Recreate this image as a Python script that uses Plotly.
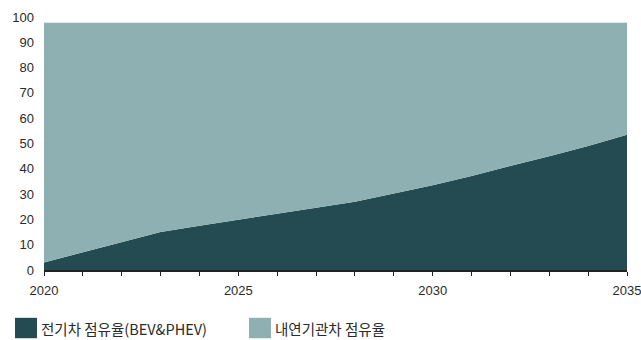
import plotly.graph_objects as go

years = list(range(2020, 2036))
ev_share = [3, 7, 11, 15, 17.5, 19.8, 22.2, 24.6, 27, 30.2, 33.5, 37.2, 41, 45, 49, 53.5]
ice_share = [94.7, 90.7, 86.7, 82.7, 80.2, 77.9, 75.5, 73.1, 70.7, 67.5, 64.2, 60.5, 56.7, 52.7, 48.7, 44.2]
names = ["전기차 점유율(BEV&PHEV)", "내연기관차 점유율"]
colors = ["#244b52", "#8fb0b3"]
y_ticks = list(range(0, 101, 10))
x_ticks = [2020, 2025, 2030, 2035]

fig = go.Figure()
for vals, name, col in zip([ev_share, ice_share], names, colors):
    fig.add_trace(go.Scatter(
        x=years, y=vals, name=name, mode="lines", stackgroup="one",
        line=dict(width=0, color=col), fillcolor=col, showlegend=False,
        hoverinfo="skip"))

font_num = dict(family="Liberation Sans, Arial, sans-serif", size=13, color="#2a2a2a")

fig.update_layout(
    width=641, height=340,
    margin=dict(l=44, r=14, t=16.5, b=69.5, autoexpand=False),
    paper_bgcolor="white", plot_bgcolor="white",
    showlegend=False,
    xaxis=dict(
        range=[2020, 2035], tickvals=x_ticks, ticktext=[str(v) for v in x_ticks],
        ticks="outside", ticklen=4, tickwidth=1, tickcolor="#222",
        showline=True, linecolor="#222", linewidth=1.5,
        showgrid=False, zeroline=False, tickfont=font_num,
        ticklabelstandoff=4, automargin=False, ticklabeloverflow="allow",
        minor=dict(dtick=1, ticks="outside", ticklen=4, tickwidth=1, tickcolor="#222", showgrid=False),
    ),
    yaxis=dict(
        range=[0, 100], tickvals=y_ticks, ticks="", showline=False,
        showgrid=False, zeroline=False, tickfont=font_num,
        ticklabelstandoff=9, automargin=False, ticklabeloverflow="allow",
    ),
)

# legend drawn manually
leg_font = dict(family="Noto Sans CJK KR, sans-serif", size=14.5, color="#2a2a2a")
leg_x = [15, 249]
for lx, name, col in zip(leg_x, names, colors):
    fig.add_shape(type="rect", xref="paper", yref="paper",
                  x0=(lx - 44) / 583, x1=(lx + 22 - 44) / 583,
                  y0=(270.5 - 339) / 254, y1=(270.5 - 318.5) / 254,
                  fillcolor=col, line=dict(width=0))
    fig.add_annotation(xref="paper", yref="paper",
                       x=(lx + 24 - 44) / 583, y=(270.5 - 329.5) / 254,
                       text=name, showarrow=False, xanchor="left", yanchor="middle",
                       font=leg_font)

fig.write_html("out.html")
